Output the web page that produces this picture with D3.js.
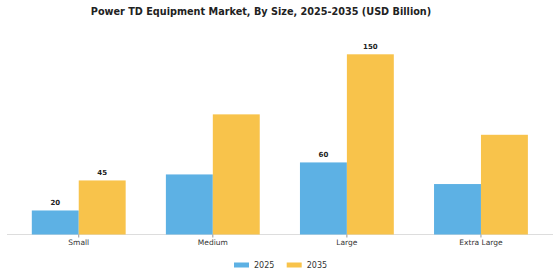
<!DOCTYPE html>
<html>
<head>
<meta charset="utf-8">
<script src="https://cdn.jsdelivr.net/npm/d3@7"></script>
<style>
  body { margin: 0; background: #fff; }
  svg { font-family: "DejaVu Sans", sans-serif; }
</style>
</head>
<body>
<div id="graph"></div>
<script>
const categories = ['Small', 'Medium', 'Large', 'Extra Large'];
const years = ['2025', '2035'];
const values2025 = [20, 50, 60, 42];
const values2035 = [45, 100, 150, 83];
// only these bars carry a value label in the picture
const labelled2025 = [true, false, true, false];
const labelled2035 = [true, false, true, false];

const width = 560, height = 280;
const baseY = 234.5;

const color = d3.scaleOrdinal().domain(years).range(['#5DB1E4', '#F8C34B']);

const xScale = d3.scaleBand()
    .domain(categories)
    .range([11.7, 548])
    .paddingInner(0.3)
    .paddingOuter(0.15);

const xSub = d3.scaleBand()
    .domain(years)
    .range([0, xScale.bandwidth()]);

const yScale = d3.scaleLinear()
    .domain([0, 150])
    .range([baseY, 54.3]);

const rows = categories.map((c, i) => ({
    cat: c,
    bars: [
        { year: '2025', value: values2025[i], label: labelled2025[i] },
        { year: '2035', value: values2035[i], label: labelled2035[i] }
    ]
}));

const svg = d3.select('div#graph')
    .append('svg')
        .attr('width', width)
        .attr('height', height);

svg.append('text')
    .attr('x', 261)
    .attr('y', 14.5)
    .attr('text-anchor', 'middle')
    .attr('font-size', 9.7)
    .attr('font-weight', 'bold')
    .attr('fill', '#222')
    .text('Power TD Equipment Market, By Size, 2025-2035 (USD Billion)');

// baseline
svg.append('line')
    .attr('x1', 7).attr('x2', 553)
    .attr('y1', baseY).attr('y2', baseY)
    .attr('stroke', '#ddd')
    .attr('stroke-width', 1);

const groups = svg.selectAll('.group')
    .data(rows).enter()
    .append('g')
        .attr('class', 'group')
        .attr('transform', d => `translate(${xScale(d.cat)},0)`);

groups.selectAll('rect')
    .data(d => d.bars).enter()
    .append('rect')
        .attr('x', d => xSub(d.year))
        .attr('y', d => yScale(d.value))
        .attr('width', xSub.bandwidth())
        .attr('height', d => baseY - yScale(d.value))
        .attr('fill', d => color(d.year));

groups.selectAll('.val')
    .data(d => d.bars.filter(b => b.label)).enter()
    .append('text')
        .attr('class', 'val')
        .attr('x', d => xSub(d.year) + xSub.bandwidth() / 2)
        .attr('y', d => yScale(d.value) - 5)
        .attr('text-anchor', 'middle')
        .attr('font-size', 7)
        .attr('font-weight', 'bold')
        .attr('fill', '#222')
        .text(d => d.value);

// category axis
const xAxis = svg.append('g')
        .attr('transform', `translate(0,${baseY})`)
    .call(d3.axisBottom(xScale).tickSize(3).tickSizeOuter(0));

xAxis.select('.domain').remove();
xAxis.selectAll('.tick line').attr('stroke', '#999');
xAxis.selectAll('.tick text')
    .attr('font-family', '"DejaVu Sans", sans-serif')
    .attr('font-size', 7.5)
    .attr('fill', '#333')
    .attr('dy', '0.55em');

// legend
const legend = svg.append('g')
    .selectAll('g')
    .data(years).enter()
    .append('g')
        .attr('transform', (d, i) => `translate(${234 + i * 52.7},265)`);

legend.append('rect')
    .attr('x', 0).attr('y', -2.5)
    .attr('width', 15).attr('height', 5)
    .attr('fill', d => color(d));

legend.append('text')
    .attr('x', 20)
    .attr('y', 3)
    .attr('font-size', 8)
    .attr('fill', '#333')
    .text(d => d);
</script>
</body>
</html>
